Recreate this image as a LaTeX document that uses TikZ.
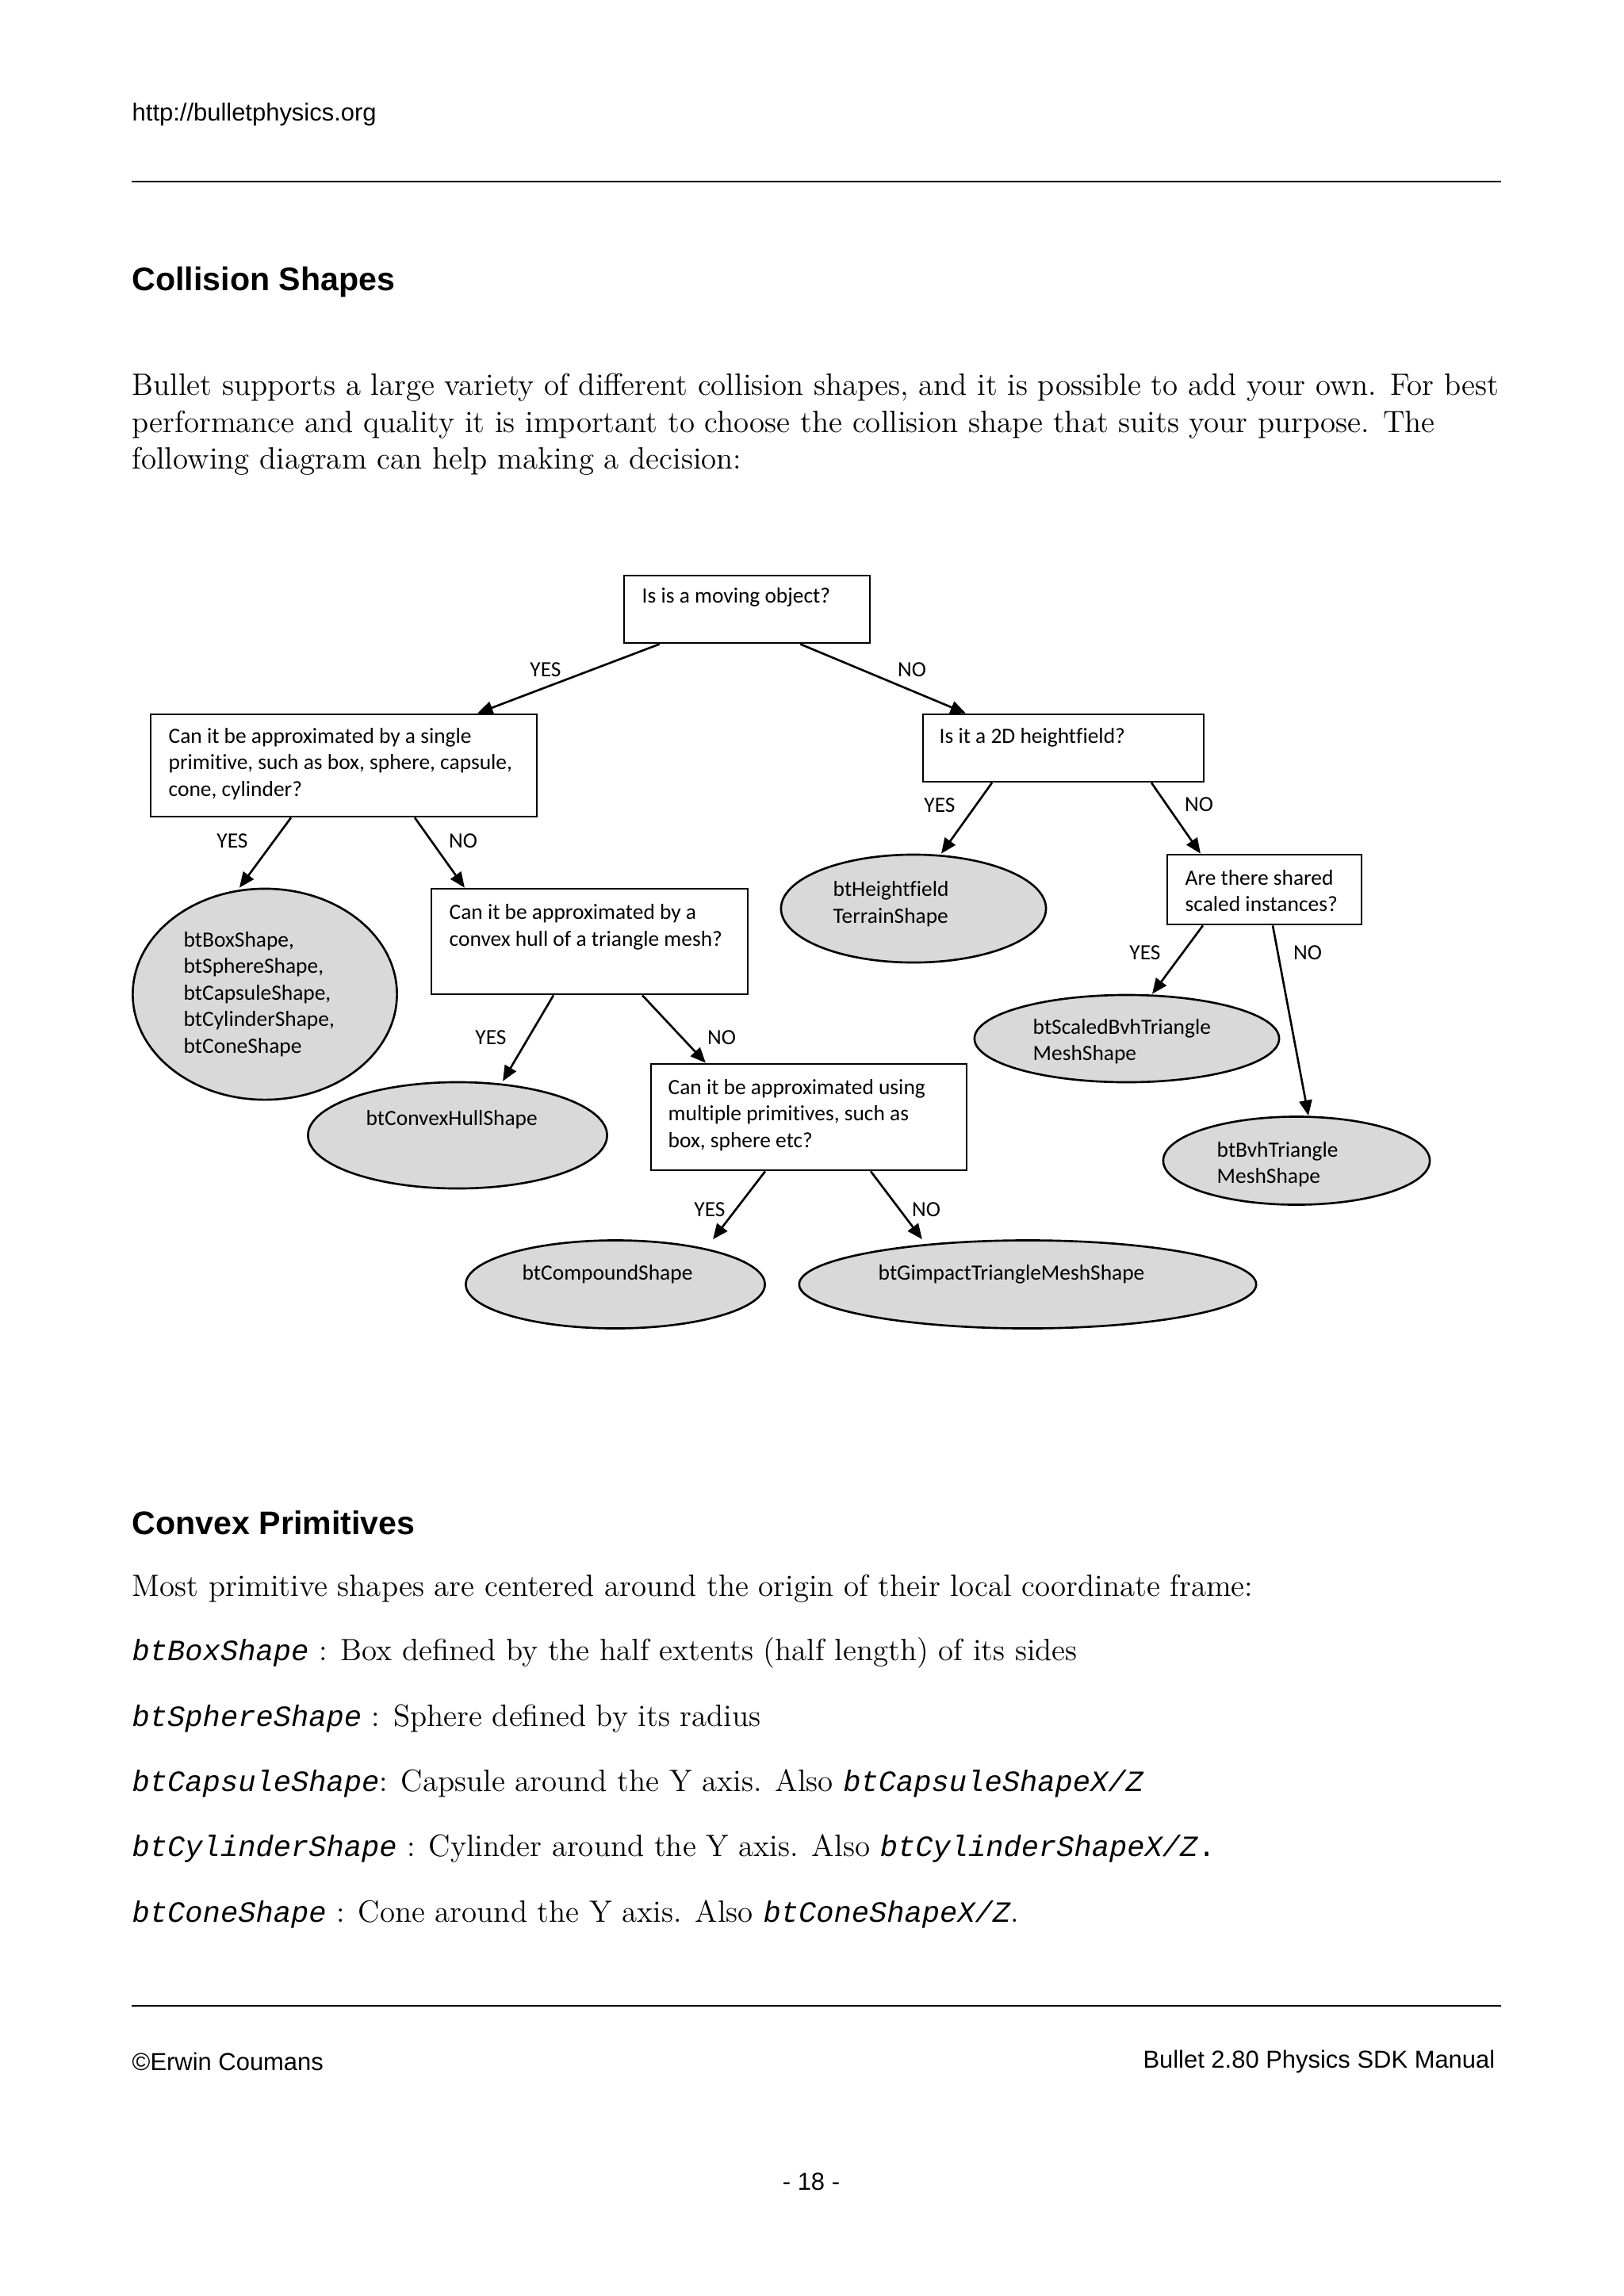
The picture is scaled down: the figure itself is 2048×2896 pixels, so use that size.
\documentclass[tikz,border=0pt]{standalone}
\usepackage{fontspec}
\usepackage{tikz}
\usetikzlibrary{arrows.meta, shapes.geometric}
\newfontfamily\arialfont{Liberation Sans}
\newfontfamily\calibrifont{Carlito}[Ligatures={NoCommon}]
\newfontfamily\codefont{Liberation Mono}
\definecolor{shapegray}{RGB}{217,217,217}
\newcommand{\code}[1]{{\codefont\itshape\fontsize{10.55}{13}\selectfont #1}}

\begin{document}
\begin{tikzpicture}[x=0.01cm, y=-0.01cm,
    question/.style={draw=black, shape=rectangle, line width=0.75pt, inner sep=0pt},
    result/.style={draw=black, shape=ellipse, fill=shapegray, line width=0.75pt, inner sep=0pt},
    boxtext/.style={anchor=west, align=left, inner sep=0pt, font=\calibrifont\fontsize{7.8}{9.5}\selectfont},
    answer/.style={inner sep=0pt, font=\calibrifont\fontsize{7.8}{9.5}\selectfont},
    decision/.style={-{Triangle[length=5.5pt, width=4.6pt]}, line width=0.75pt},
    pagerule/.style={line width=0.7pt},
    headtext/.style={anchor=west, inner sep=0pt, font=\arialfont\fontsize{8.8}{10.5}\selectfont},
    title/.style={anchor=west, inner sep=0pt, font=\arialfont\bfseries\fontsize{11.7}{14}\selectfont},
    bodytext/.style={anchor=west, inner sep=0pt, font=\fontsize{11.05}{13}\selectfont}
]
    \fill[white] (0,0) rectangle (2048,2896);
    \useasboundingbox (0,0) rectangle (2048,2896);

    % page header
    \node[headtext, name=url] at(166,144) {http://bulletphysics.org};
    \draw[pagerule] (166,229) -- (1893,229);
    \node[title, name=collision] at(166,356) {Collision Shapes};
    \node[bodytext, name=intro1] at(166,489) {Bullet supports a large variety of different collision shapes, and it is possible to add your own. For best};
    \node[bodytext, name=intro2] at(166,536) {performance and quality it is important to choose the collision shape that suits your purpose. The};
    \node[bodytext, name=intro3] at(166,582) {following diagram can help making a decision:};

    % decision tree
    \node[question, name=moving, minimum width=3.10cm, minimum height=0.85cm] at(942,768.5) {};
    \node[boxtext, name=movingt] at(809,753) {Is is a moving object?};

    \node[question, name=single, minimum width=4.87cm, minimum height=1.29cm] at(433.5,965.5) {};
    \node[boxtext, name=singlet] at(212,963.5) {Can it be approximated by a single\\primitive, such as box, sphere, capsule,\\cone, cylinder?};

    \node[question, name=height, minimum width=3.54cm, minimum height=0.85cm] at(1341,943.5) {};
    \node[boxtext, name=heightt] at(1184,930) {Is it a 2D heightfield?};

    \node[result, name=primlist, minimum width=3.33cm, minimum height=2.66cm] at(334,1254) {};
    \node[boxtext, name=primlistt] at(231,1254) {btBoxShape,\\btSphereShape,\\btCapsuleShape,\\btCylinderShape,\\btConeShape};

    \node[question, name=hull, minimum width=3.99cm, minimum height=1.33cm] at(743.5,1187.5) {};
    \node[boxtext, name=hullt] at(566,1169.5) {Can it be approximated by a\\convex hull of a triangle mesh?};

    \node[result, name=terrain, minimum width=3.34cm, minimum height=1.36cm] at(1152,1146) {};
    \node[boxtext, name=terraint] at(1050,1140) {btHeightfield\\TerrainShape};

    \node[question, name=shared, minimum width=2.45cm, minimum height=0.88cm] at(1594.5,1122) {};
    \node[boxtext, name=sharedt] at(1494,1123.5) {Are there shared\\scaled instances?};

    \node[result, name=convexhull, minimum width=3.77cm, minimum height=1.34cm] at(577,1432) {};
    \node[boxtext, name=convexhullt] at(461,1412) {btConvexHullShape};

    \node[question, name=multiple, minimum width=3.98cm, minimum height=1.34cm] at(1020,1409) {};
    \node[boxtext, name=multiplet] at(842,1406.5) {Can it be approximated using\\multiple primitives, such as\\box, sphere etc?};

    \node[result, name=scaledbvh, minimum width=3.84cm, minimum height=1.10cm] at(1421,1310) {};
    \node[boxtext, name=scaledbvht] at(1302,1313.5) {btScaledBvhTriangle\\MeshShape};

    \node[result, name=bvh, minimum width=3.36cm, minimum height=1.11cm] at(1635,1464) {};
    \node[boxtext, name=bvht] at(1534,1468.5) {btBvhTriangle\\MeshShape};

    \node[result, name=compound, minimum width=3.77cm, minimum height=1.11cm] at(776,1620) {};
    \node[boxtext, name=compoundt] at(658,1607) {btCompoundShape};

    \node[result, name=gimpact, minimum width=5.76cm, minimum height=1.11cm] at(1296,1620) {};
    \node[boxtext, name=gimpactt] at(1107,1607) {btGimpactTriangleMeshShape};

    \draw[decision] ([xshift=-1.10cm]moving.south) -- ([xshift=1.685cm]single.north);
    \draw[decision] ([xshift=0.67cm]moving.south) -- ([xshift=-1.23cm]height.north);
    \draw[decision] ([xshift=-0.665cm]single.south) -- ([xshift=-0.32cm]primlist.north);
    \draw[decision] ([xshift=0.895cm]single.south) -- ([xshift=-1.575cm]hull.north);
    \draw[decision] ([xshift=-0.90cm]height.south) -- ([xshift=0.35cm]terrain.north);
    \draw[decision] ([xshift=1.11cm]height.south) -- ([xshift=-0.805cm]shared.north);
    \draw[decision] ([xshift=-0.455cm]hull.south) -- ([xshift=0.57cm]convexhull.north);
    \draw[decision] ([xshift=0.665cm]hull.south) -- ([xshift=-1.30cm]multiple.north);
    \draw[decision] ([xshift=-0.775cm]shared.south) -- ([xshift=0.32cm]scaledbvh.north);
    \draw[decision] ([xshift=0.105cm]shared.south) -- ([xshift=0.15cm]bvh.north);
    \draw[decision] ([xshift=-0.55cm]multiple.south) -- ([xshift=1.23cm]compound.north);
    \draw[decision] ([xshift=0.78cm]multiple.south) -- ([xshift=-1.33cm]gimpact.north);

    \node[answer, name=yes1] at(688,845) {YES};
    \node[answer, name=no1] at(1150,845) {NO};
    \node[answer, name=yes2] at(293,1061) {YES};
    \node[answer, name=no2] at(584,1061) {NO};
    \node[answer, name=yes3] at(1185,1016) {YES};
    \node[answer, name=no3] at(1512,1015) {NO};
    \node[answer, name=yes4] at(619,1309) {YES};
    \node[answer, name=no4] at(910,1309) {NO};
    \node[answer, name=yes5] at(1444,1202) {YES};
    \node[answer, name=no5] at(1649,1202) {NO};
    \node[answer, name=yes6] at(895,1526) {YES};
    \node[answer, name=no6] at(1168,1526) {NO};

    % convex primitives
    \node[title, name=convex] at(166,1921) {Convex Primitives};
    \node[bodytext, name=most] at(166,2004) {Most primitive shapes are centered around the origin of their local coordinate frame:};
    \node[bodytext, name=boxline] at(166,2085) {\code{btBoxShape} : Box defined by the half extents (half length) of its sides};
    \node[bodytext, name=sphereline] at(166,2168) {\code{btSphereShape} : Sphere defined by its radius};
    \node[bodytext, name=capsuleline] at(166,2249) {\code{btCapsuleShape}: Capsule around the Y axis. Also \code{btCapsuleShapeX/Z}};
    \node[bodytext, name=cylinderline] at(166,2332) {\code{btCylinderShape} : Cylinder around the Y axis. Also \code{btCylinderShapeX/Z}{\codefont\fontsize{10.55}{13}\selectfont .}};
    \node[bodytext, name=coneline] at(166,2414) {\code{btConeShape} : Cone around the Y axis. Also \code{btConeShapeX/Z}.};

    % page footer
    \draw[pagerule] (166,2530) -- (1893,2530);
    \node[headtext, name=author] at(166,2600) {©Erwin Coumans};
    \node[headtext, anchor=east, name=manual] at(1886,2600) {Bullet 2.80 Physics SDK Manual};
    \node[headtext, anchor=center, name=pageno] at(1023,2752) {- 18 -};
\end{tikzpicture}
\end{document}
